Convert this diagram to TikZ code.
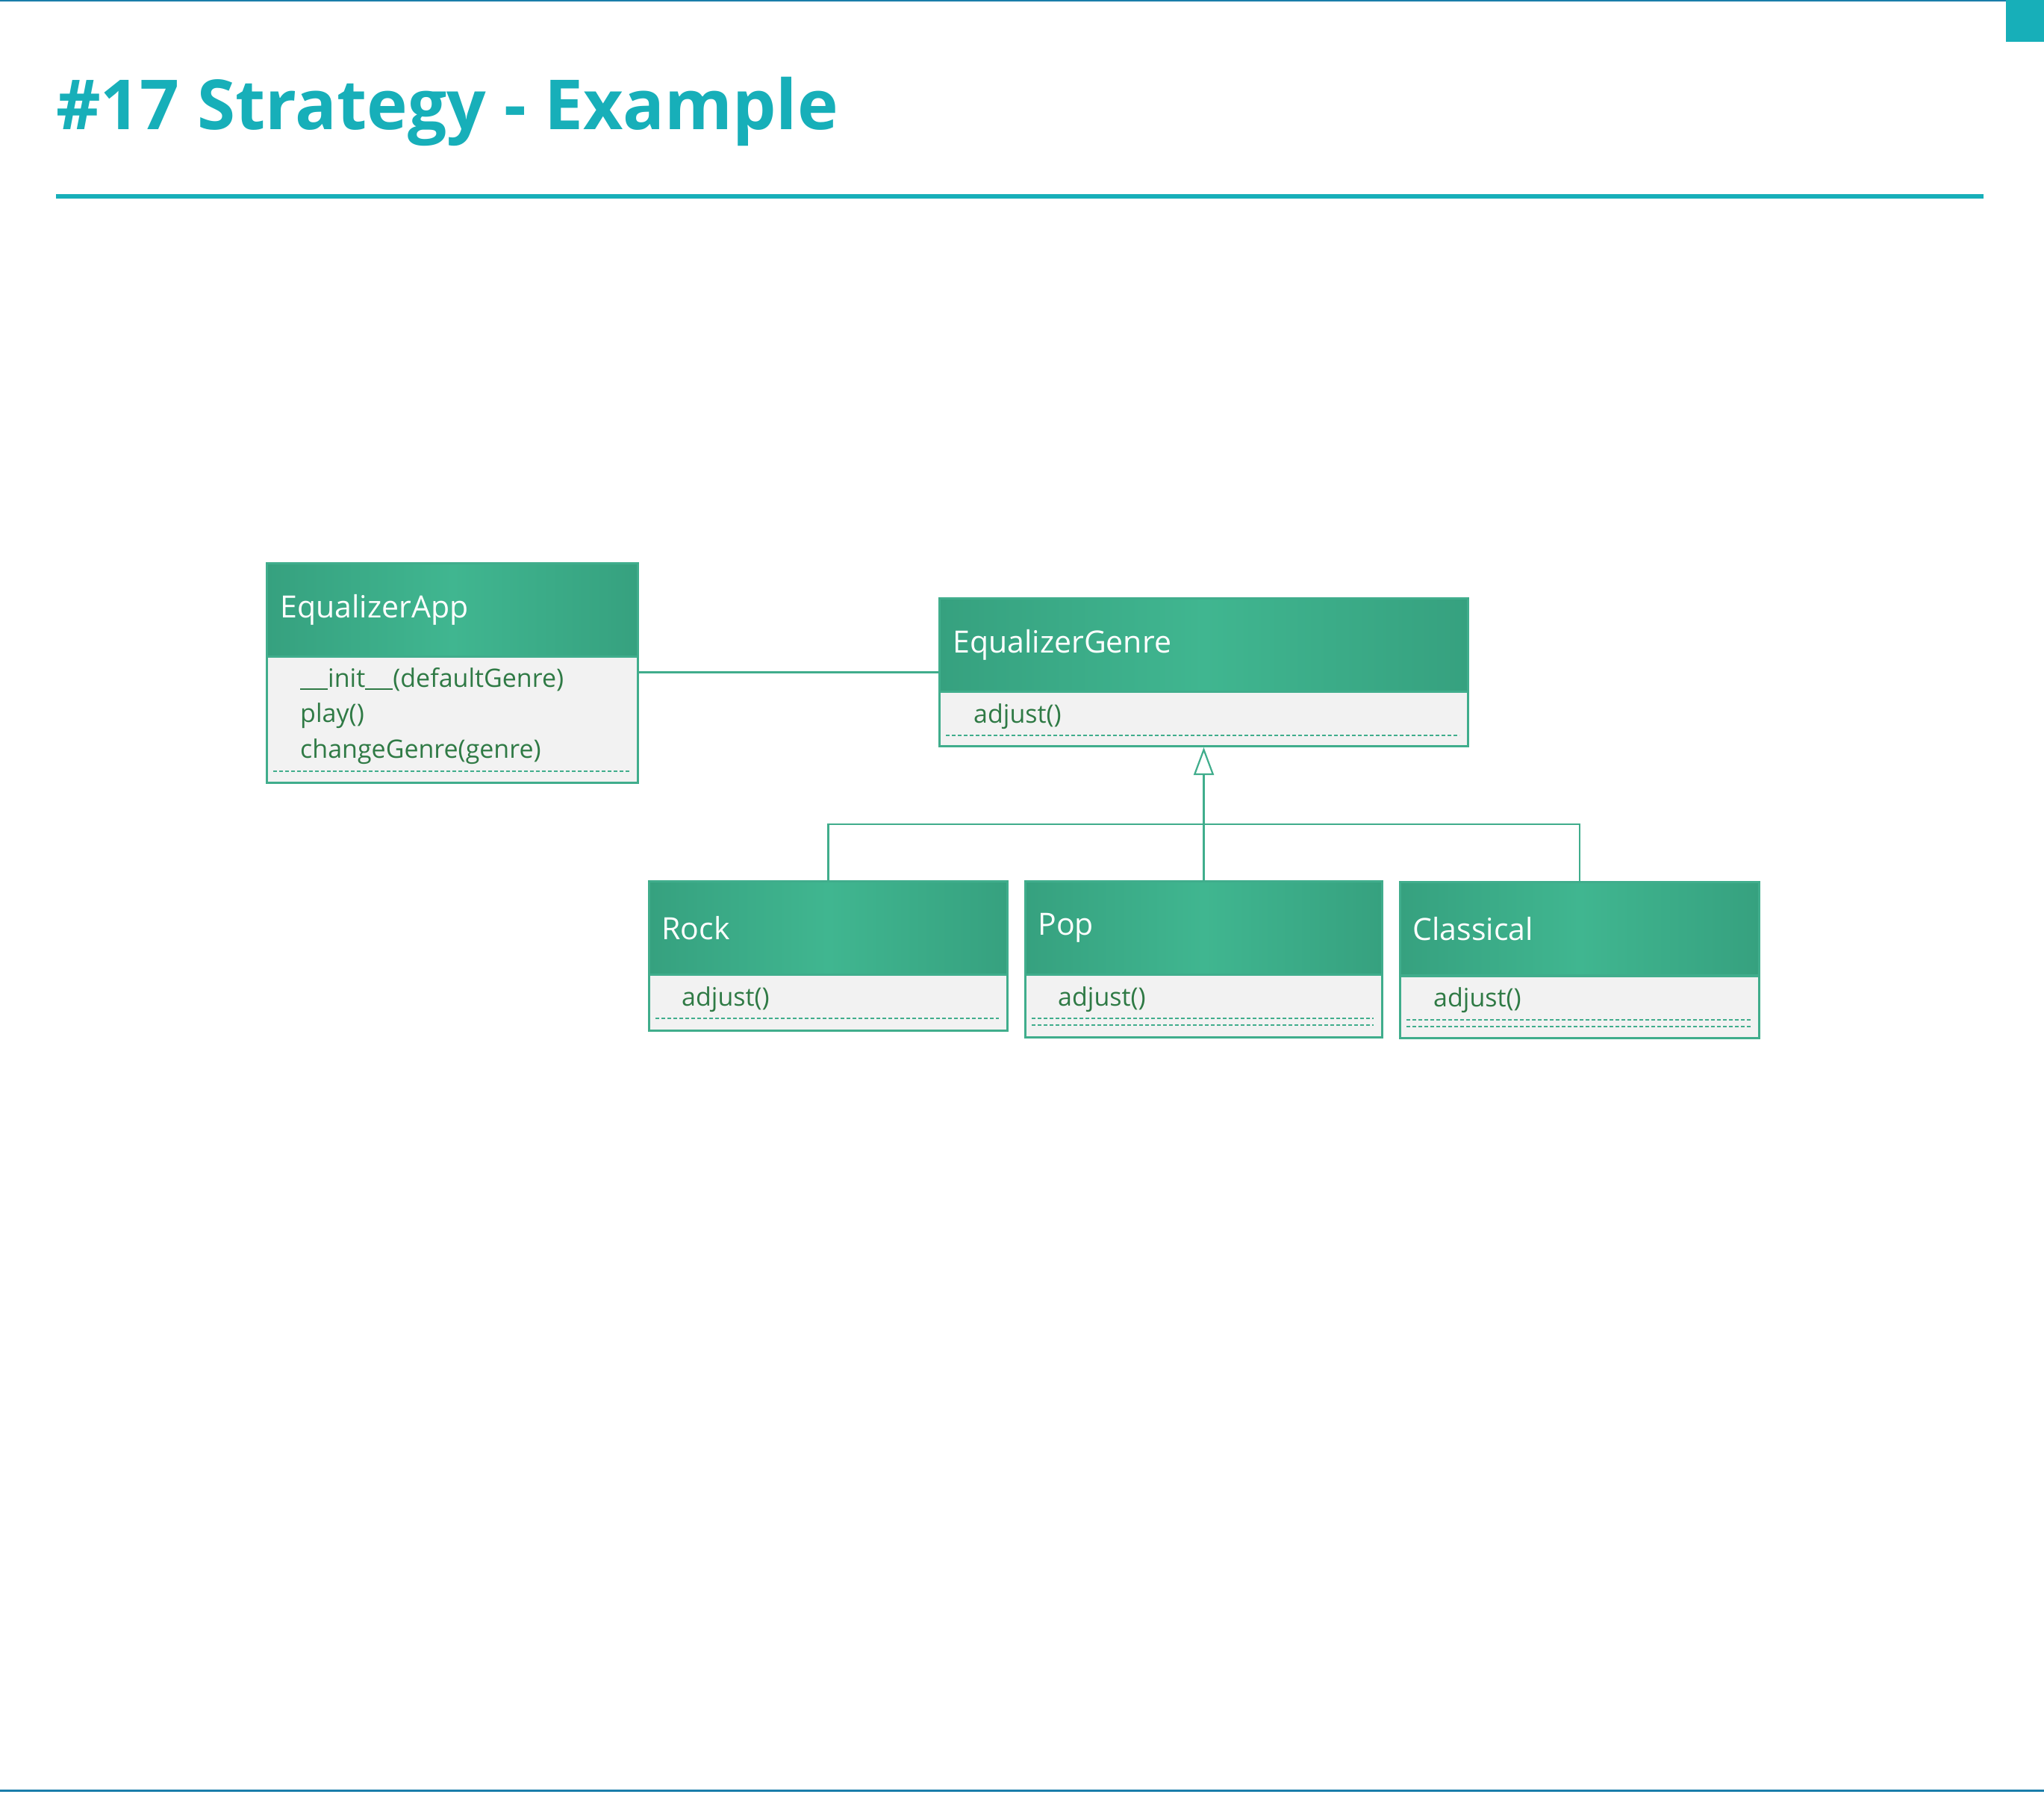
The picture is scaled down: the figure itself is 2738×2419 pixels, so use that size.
\documentclass[tikz,border=0pt]{standalone}
\usepackage{fontspec}
\setmainfont{Open Sans}
\usetikzlibrary{arrows.meta}
\definecolor{teal1}{HTML}{17AFB9}
\definecolor{topblue}{HTML}{1A7DAA}
\definecolor{hdark}{HTML}{36A17F}
\definecolor{hlight}{HTML}{40B690}
\definecolor{bord}{HTML}{40AD8C}
\definecolor{mfill}{HTML}{F2F2F2}
\definecolor{mtext}{HTML}{2F7A45}
\newcommand\myusc{\rule[-4pt]{18.5pt}{2.2pt}}
\tikzset{
  hdr/.style={draw=bord, line width=3pt, left color=hdark, right color=hdark, middle color=hlight,
    text=white, font=\fontsize{41}{49}\selectfont, inner xsep=18pt, inner ysep=0pt,
    align=left, anchor=north west, minimum height=125pt},
  mbox/.style={draw=bord, line width=3pt, fill=mfill, anchor=north west, inner sep=0pt},
  mtxt/.style={text=mtext, font=\fontsize{34}{40}\selectfont, anchor=base west, inner sep=0pt},
  dsh/.style={draw=bord, line width=2pt, dash pattern=on 5pt off 3pt},
  conn/.style={draw=bord, line width=2.2pt},
  titlestyle/.style={text=teal1, font=\bfseries\fontsize{92.5}{110}\selectfont, anchor=base west, inner sep=0pt}
}
\begin{document}
\begin{tikzpicture}[x=1pt,y=-1pt]
\useasboundingbox[fill=white] (0,0) rectangle (2738,2419);
% frame decorations
\fill[topblue] (0,0) rectangle (2687,2.5);
\fill[teal1] (2687,0) rectangle (2738,56);
\fill[topblue] (0,2397) rectangle (2738,2400);
\node[titlestyle] (title) at (75,174) {\#17 Strategy - Example};
\fill[teal1] (75,260) rectangle (2657,266);

% EqualizerApp
\node[mbox, minimum width=497pt, minimum height=169pt] (appM) at (356,878) {};
\node[hdr, text width=461pt] (appH) at (356,753) {EqualizerApp};
\node[mtxt] (appM1) at (402,920) {\myusc\myusc init\myusc\myusc(defaultGenre)};
\node[mtxt] (appM2) at (402,967) {play()};
\node[mtxt] (appM3) at (402,1015) {changeGenre(genre)};
\draw[dsh] (366,1033) -- (843,1033);

% EqualizerGenre
\node[mbox, minimum width=708pt, minimum height=73pt] (genM) at (1257,925) {};
\node[hdr, text width=672pt] (genH) at (1257,800) {EqualizerGenre};
\node[mtxt] (genM1) at (1304,968) {adjust()};
\draw[dsh] (1267,985) -- (1955,985);

% Rock
\node[mbox, minimum width=480pt, minimum height=75pt] (rockM) at (868,1304) {};
\node[hdr, text width=446pt, inner xsep=17pt] (rockH) at (868,1179) {Rock};
\node[mtxt] (rockM1) at (913,1347) {adjust()};
\draw[dsh] (878,1364) -- (1338,1364);

% Pop
\node[mbox, minimum width=478pt, minimum height=84pt] (popM) at (1372,1304) {};
\node[hdr, text width=444pt, inner xsep=17pt] (popH) at (1372,1179) {Pop};
\node[mtxt] (popM1) at (1417,1347) {adjust()};
\draw[dsh] (1382,1364) -- (1840,1364);
\draw[dsh] (1382,1373) -- (1840,1373);

% Classical
\node[mbox, minimum width=481pt, minimum height=83pt] (clsM) at (1874,1306) {};
\node[hdr, text width=447pt, inner xsep=17pt] (clsH) at (1874,1180) {Classical};
\node[mtxt] (clsM1) at (1920,1348) {adjust()};
\draw[dsh] (1884,1366) -- (2345,1366);
\draw[dsh] (1884,1375) -- (2345,1375);

% connectors
\draw[conn] ([yshift=-22.5pt]appM.north east) -- ([yshift=27.5pt]genH.south west);
\coordinate (bar) at (1611,1104);
\draw[conn] (rockH.north) |- (bar) -| (clsH.north);
\draw[conn, -{Triangle[open, length=37pt, width=27pt, line width=2.2pt]}] (popH.north) -- (genM.south);
\end{tikzpicture}
\end{document}
